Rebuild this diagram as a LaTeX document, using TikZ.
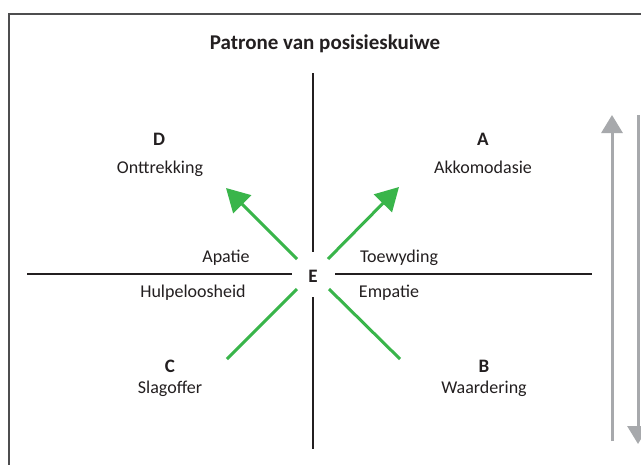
\documentclass[tikz,border=0pt]{standalone}
\usepackage{fontspec}
\setmainfont{Carlito}
\usetikzlibrary{arrows.meta}
\definecolor{axiscol}{HTML}{231F20}
\definecolor{greencol}{HTML}{39B54A}
\definecolor{greycol}{HTML}{A7A9AC}
\definecolor{framecol}{HTML}{4D4D4F}
\begin{document}
\begin{tikzpicture}[x=1pt,y=-1pt,
  lbl/.style={font=\fontsize{18}{22}\selectfont, inner sep=0pt, anchor=base, text=axiscol},
  letter/.style={font=\fontsize{19}{22}\selectfont\bfseries, inner sep=0pt, anchor=base, text=axiscol},
  titlestyle/.style={font=\fontsize{21}{25}\selectfont\bfseries, inner sep=0pt, anchor=base, text=axiscol},
  axisline/.style={draw=axiscol, line width=2.5pt},
  garrow/.style={draw=greencol, line width=3pt, -{Triangle[length=23pt,width=25pt]}},
  gline/.style={draw=greencol, line width=3pt},
  grarrow/.style={draw=greycol, line width=3pt, -{Triangle[length=18pt,width=21pt]}},
  framestyle/.style={draw=framecol, line width=1.2pt}]
\clip (0,0) rectangle (641,464);
\fill[white] (0,0) rectangle (641,464);
\draw[framestyle] (9,14) rectangle (680,500);

% title
\node[titlestyle] (title) at (325,49) {Patrone van posisieskuiwe};

% axes
\coordinate (vtop) at (313,73);
\coordinate (vtopE) at (313,252);
\coordinate (vbotE) at (313,297);
\coordinate (vbot) at (313,449);
\coordinate (hleft) at (27,274);
\coordinate (hleftE) at (292,274);
\coordinate (hrightE) at (335,274);
\coordinate (hright) at (592,274);
\draw[axisline] (vtop) -- (vtopE);
\draw[axisline] (vbotE) -- (vbot);
\draw[axisline] (hleft) -- (hleftE);
\draw[axisline] (hrightE) -- (hright);

% centre
\node[letter] (E) at (313,282) {E};

% quadrant labels
\node[letter] (D) at (159,145) {D};
\node[lbl] (Dt) at (160,173) {Onttrekking};
\node[letter] (A) at (483,145) {A};
\node[lbl] (At) at (483,173) {Akkomodasie};
\node[letter] (C) at (170,372) {C};
\node[lbl] (Ct) at (170,393) {Slagoffer};
\node[letter] (B) at (484,372) {B};
\node[lbl] (Bt) at (484,393) {Waardering};

\node[lbl] (apatie) at (226,262) {Apatie};
\node[lbl] (toewyding) at (399,262) {Toewyding};
\node[lbl] (hulp) at (193,297) {Hulpeloosheid};
\node[lbl] (empatie) at (389,297) {Empatie};

% green arrows
\coordinate (ulS) at (297,259);
\coordinate (ulT) at (226,188);
\coordinate (urS) at (328,259);
\coordinate (urT) at (399,187);
\coordinate (llS) at (297,289);
\coordinate (llE) at (227,359);
\coordinate (lrS) at (329,289);
\coordinate (lrE) at (400,359);
\draw[garrow] (ulS) -- (ulT);
\draw[garrow] (urS) -- (urT);
\draw[gline] (llS) -- (llE);
\draw[gline] (lrS) -- (lrE);

% grey arrows
\coordinate (upB) at (612,441);
\coordinate (upT) at (612,115);
\coordinate (dnT) at (638,115);
\coordinate (dnB) at (638,444);
\draw[grarrow] (upB) -- (upT);
\draw[grarrow] (dnT) -- (dnB);
\end{tikzpicture}
\end{document}
